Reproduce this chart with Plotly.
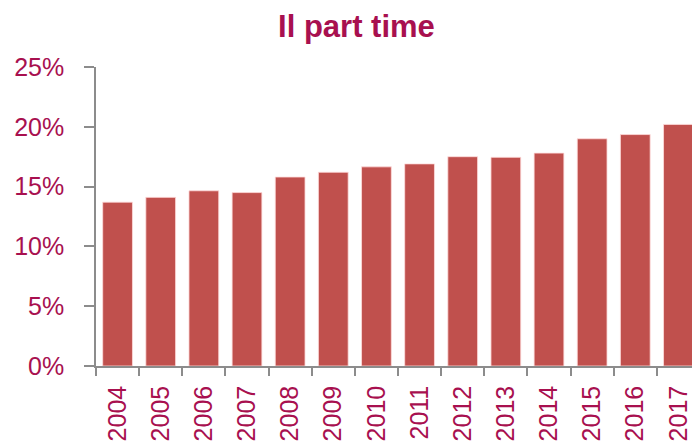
import plotly.graph_objects as go

years = ["2004", "2005", "2006", "2007", "2008", "2009", "2010",
         "2011", "2012", "2013", "2014", "2015", "2016", "2017"]
part_time = [13.7, 14.1, 14.65, 14.5, 15.8, 16.2, 16.65,
             16.9, 17.5, 17.45, 17.8, 19.0, 19.35, 20.2]

text_col = "#A8104F"
bar_col = "#C0504D"
axis_col = "#8C8C8C"
font_fam = "Liberation Sans, Arial, sans-serif"

fig = go.Figure(go.Bar(
    x=years, y=part_time,
    marker=dict(color=bar_col, line=dict(color="rgba(255,220,220,0.8)", width=1)),
))

fig.update_layout(
    width=692, height=440,
    margin=dict(l=88, r=0, t=59, b=82, autoexpand=False),
    paper_bgcolor="white", plot_bgcolor="white",
    bargap=0.31,
    showlegend=False,
    title=dict(text="<b>Il part time</b>", x=0.5036, xanchor="center", xref="container",
               y=0.958, yanchor="middle", yref="container",
               font=dict(family=font_fam, size=31, color=text_col)),
    font=dict(family=font_fam, color=text_col),
)

fig.update_xaxes(
    type="category", showline=True, linecolor=axis_col, linewidth=1.5,
    ticks="outside", tickson="boundaries", ticklen=8, tickcolor=axis_col, tickwidth=1.5,
    tickangle=-90, tickfont=dict(family=font_fam, size=25, color=text_col),
    ticklabelstandoff=8, showgrid=False, automargin=False,
)
fig.update_yaxes(
    range=[0, 25], dtick=5, ticksuffix="%", showline=True, linecolor=axis_col, linewidth=1.5,
    ticks="outside", ticklen=10, tickcolor=axis_col, tickwidth=1.5,
    tickfont=dict(family=font_fam, size=25, color=text_col),
    ticklabelstandoff=15, showgrid=False, zeroline=False, automargin=False,
)

fig.write_html("out.html")
